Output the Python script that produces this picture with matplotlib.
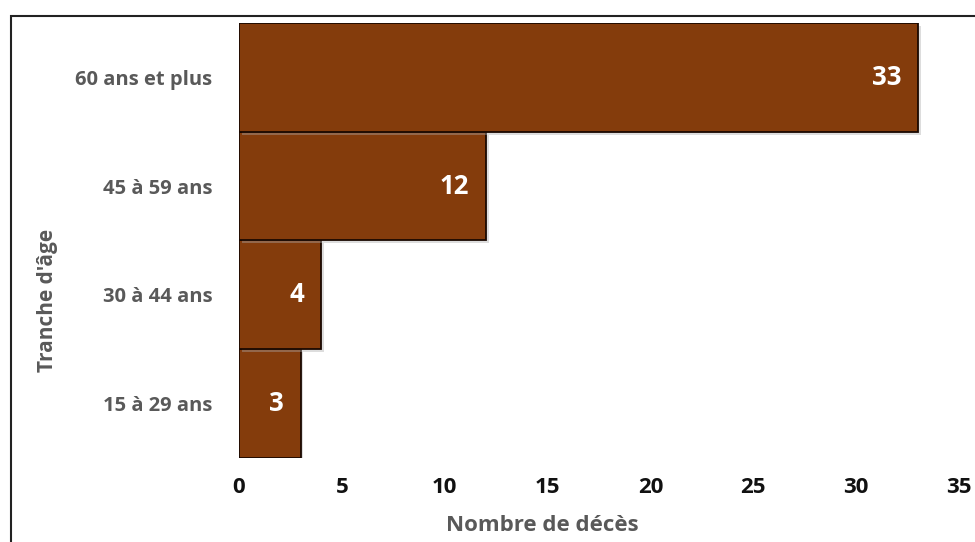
import matplotlib.pyplot as plt
import matplotlib.patheffects as pe
from matplotlib.patches import Rectangle

# Décès par tranche d'âge
tranches = ['15 à 29 ans', '30 à 44 ans', '45 à 59 ans', '60 ans et plus']
deces = [3, 4, 12, 33]

plt.rcParams['font.family'] = ['Open Sans', 'DejaVu Sans']

fig = plt.figure(figsize=(9.75, 5.42), dpi=100)
ax = fig.add_axes([0.245, 0.155, 0.7386, 0.8026])

# cadre autour du graphique
fig.patches.append(Rectangle((0.011, -0.05), 1.05, 1.02, transform=fig.transFigure,
                             fill=False, edgecolor='#222222', linewidth=1.5))

barres = ax.barh(range(len(tranches)), deces, height=1.0, color='#843C0C',
                 edgecolor='#1a0800', linewidth=1.3)
for b in barres:
    b.set_path_effects([pe.SimplePatchShadow(offset=(2, -2), shadow_rgbFace='#aaaaaa', alpha=0.4),
                        pe.Normal()])

for i, v in enumerate(deces):
    ax.text(v - 0.8, i, str(v), ha='right', va='center', color='white',
            fontsize=18.5, fontweight='bold')

ax.set_xlim(0, 35)
ax.set_ylim(-0.5, 3.5)
ax.set_xticks(range(0, 36, 5))
ax.set_yticks(range(len(tranches)))
ax.set_yticklabels(tranches, color='#595959', fontsize=14.5, fontweight='bold')
ax.tick_params(axis='x', labelsize=16, length=0, pad=14, labelcolor='#111111')
for lab in ax.get_xticklabels():
    lab.set_fontweight('bold')
ax.tick_params(axis='y', length=0, pad=19)
for s in ax.spines.values():
    s.set_visible(False)

ax.set_xlabel('Nombre de décès', color='#595959', fontsize=16, fontweight='bold')
ax.xaxis.set_label_coords(0.422, -0.13)
fig.text(0.049, 0.445, "Tranche d'âge", rotation=90, ha='center', va='center',
         color='#595959', fontsize=15, fontweight='bold')

plt.savefig('out.png', dpi=100)
